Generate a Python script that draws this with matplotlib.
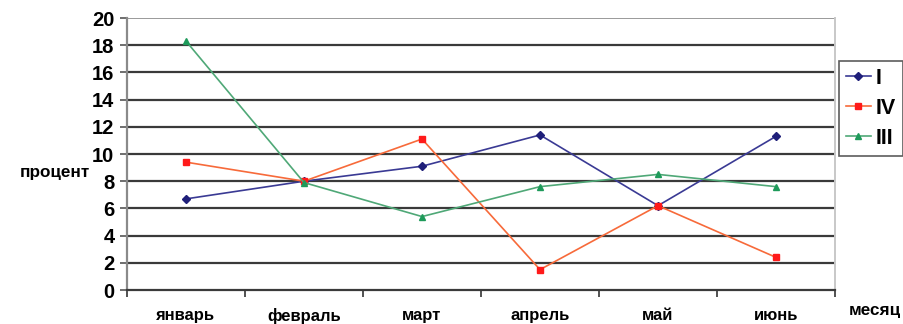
import matplotlib
matplotlib.use('Agg')
from matplotlib import pyplot as plt

months = ['январь', 'февраль', 'март', 'апрель', 'май', 'июнь']
series_I = [6.7, 8.0, 9.1, 11.4, 6.2, 11.3]
series_IV = [9.4, 8.0, 11.1, 1.5, 6.2, 2.4]
series_III = [18.3, 7.9, 5.4, 7.6, 8.5, 7.6]
y_ticks = [0, 2, 4, 6, 8, 10, 12, 14, 16, 18, 20]

plt.rcParams['font.family'] = ['Liberation Sans', 'DejaVu Sans']
plt.rcParams['font.weight'] = 'bold'

fig = plt.figure(figsize=(9.04, 3.24), dpi=100)
ax = fig.add_axes([127/904, 1 - 290/324, 708/904, 272/324])

x = [i + 0.5 for i in range(len(months))]
ax.plot(x, series_I, '-', color='#3a3a94', lw=1.2, marker='D', ms=3.6,
        mfc='#1f1f7a', mec='#1f1f7a', label='I', zorder=3)
ax.plot(x, series_IV, '-', color='#f76a3a', lw=1.2, marker='s', ms=4.5,
        mfc='#ff1a1a', mec='#ff1a1a', label='IV', zorder=3)
ax.plot(x, series_III, '-', color='#4fa877', lw=1.2, marker='^', ms=5,
        mfc='#1e9a5a', mec='#1e9a5a', label='III', zorder=3)

ax.set_xlim(0, len(months))
ax.set_ylim(0, 20)
ax.set_yticks(y_ticks)
ax.set_yticklabels([str(v) for v in y_ticks], fontsize=14.5, fontweight='bold')
ax.set_xticks(range(len(months) + 1))
ax.set_xticklabels([])
ax.set_xticks(x, minor=True)
ax.set_xticklabels(months, minor=True, fontsize=12, fontweight='bold')
ax.tick_params(axis='x', which='minor', length=0, pad=13)
ax.tick_params(axis='x', which='major', length=5, color='#333333', width=1.2)
ax.tick_params(axis='y', length=5, color='#555555', width=1.2, pad=4)

for v in y_ticks[1:-1]:
    ax.axhline(v, color='#3a3a3a', lw=1.6, zorder=1)
ax.axhline(20, color='#9a9a9a', lw=1.4, zorder=1)

ax.spines['top'].set_visible(False)
ax.spines['right'].set_color('#c8c8c8')
ax.spines['right'].set_linewidth(1.4)
ax.spines['left'].set_color('#8a8a8a')
ax.spines['left'].set_linewidth(1.6)
ax.spines['bottom'].set_color('#3a3a3a')
ax.spines['bottom'].set_linewidth(1.6)

fig.text(20/904, 1 - 172/324, 'процент', fontsize=12.3, fontweight='bold', va='center', ha='left')
fig.text(901/904, 1 - 310/324, 'месяц', fontsize=12.3, fontweight='bold', va='center', ha='right')

leg = ax.legend(loc='upper left', bbox_to_anchor=(839/904, 1 - 61/324),
                bbox_transform=fig.transFigure, frameon=True, fancybox=False,
                prop={'size': 15.5, 'weight': 'bold'}, handlelength=1.15,
                handletextpad=0.25, borderpad=0.32, labelspacing=0.42,
                borderaxespad=0)
leg.get_frame().set_edgecolor('#333333')
leg.get_frame().set_linewidth(1.2)

plt.savefig('out.png', dpi=100)
